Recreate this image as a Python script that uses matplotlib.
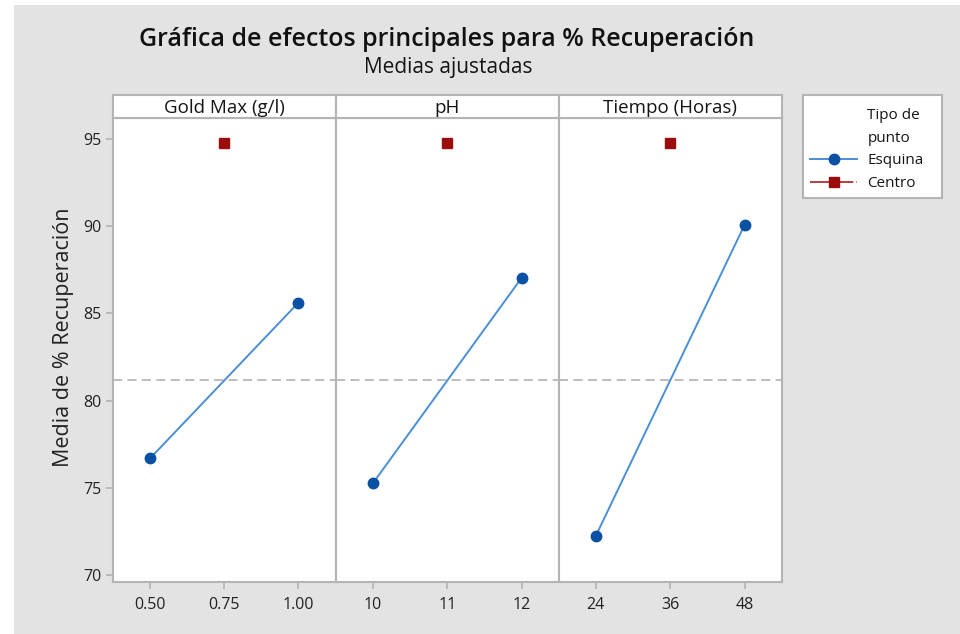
import numpy as np
import matplotlib.pyplot as plt
from matplotlib.lines import Line2D
from matplotlib.patches import Rectangle

plt.rcParams['font.family'] = ['Open Sans', 'DejaVu Sans']

factors = ['Gold Max (g/l)', 'pH', 'Tiempo (Horas)']
levels = [[0.50, 1.00], [10, 12], [24, 48]]
corner_means = [[76.69, 85.61], [75.26, 87.03], [72.25, 90.07]]
center_levels = [0.75, 11, 36]
center_means = [94.79, 94.79, 94.79]
tick_vals = [[0.50, 0.75, 1.00], [10, 11, 12], [24, 36, 48]]
tick_labels = [['0.50', '0.75', '1.00'], ['10', '11', '12'], ['24', '36', '48']]
x_limits = [(0.374, 1.126), (9.5, 12.5), (18, 54)]
overall_mean = 81.16

bg = '#e3e3e3'
frame = '#b4b4b4'
blue = '#0a50a3'
line_blue = '#4a8fd4'
red = '#9b0d0d'
ink = '#151515'

W, H = 960, 634
fig = plt.figure(figsize=(W / 100, H / 100), dpi=100)
fig.patch.set_facecolor(bg)
# white margins on the left and top of the screenshot
fig.patches.append(Rectangle((0, 0), 14 / W, 1, transform=fig.transFigure,
                             facecolor='white', edgecolor='none'))
fig.patches.append(Rectangle((0, 1 - 5 / H), 1, 5 / H, transform=fig.transFigure,
                             facecolor='white', edgecolor='none'))

left, right = 112.7 / W, 781.7 / W
pw = (right - left) / 3
bottom = 1 - 581.7 / H
top = 1 - 118 / H
strip_h = 23 / H

for i in range(3):
    ax = fig.add_axes([left + i * pw, bottom, pw, top - bottom])
    ax.set_facecolor('white')
    ax.plot(levels[i], corner_means[i], color=line_blue, lw=1.4, zorder=2)
    ax.plot(levels[i], corner_means[i], 'o', color=blue, ms=7.5, zorder=3)
    ax.plot(center_levels[i], center_means[i], 's', color=red, ms=7.5, zorder=3)
    ax.axhline(overall_mean, color='#b8b8b8', lw=1.3, ls=(0, (5, 3)), zorder=1)
    ax.set_xlim(*x_limits[i])
    ax.set_ylim(69.62, 96.2)
    ax.set_xticks(tick_vals[i])
    ax.set_xticklabels(tick_labels[i])
    ax.set_yticks([70, 75, 80, 85, 90, 95])
    for s in ax.spines.values():
        s.set_color(frame)
        s.set_linewidth(1.5)
    ax.tick_params(axis='both', colors=frame, labelcolor='#222222', labelsize=11.5, length=5, width=1.2)
    ax.tick_params(axis='x', pad=6)
    ax.tick_params(axis='y', pad=3)
    if i > 0:
        ax.tick_params(axis='y', left=False, labelleft=False)
    else:
        ax.set_ylabel('Media de % Recuperación', fontsize=15.5, color='#222222')
        ax.yaxis.set_label_coords(-0.173, 0.528)

    sax = fig.add_axes([left + i * pw, top, pw, strip_h])
    sax.set_facecolor('white')
    sax.set_xticks([])
    sax.set_yticks([])
    for s in sax.spines.values():
        s.set_color(frame)
        s.set_linewidth(1.5)
    sax.text(0.5, 0.45, factors[i], ha='center', va='center', fontsize=13.5, color=ink,
             transform=sax.transAxes)

fig.text(447 / W, 1 - 40 / H, 'Gráfica de efectos principales para % Recuperación',
         ha='center', va='center', fontsize=18, fontweight='semibold', color='#111111')
fig.text(448 / W, 1 - 68 / H, 'Medias ajustadas', ha='center', va='center',
         fontsize=15, color=ink)

# legend box
fig.patches.append(Rectangle((803 / W, 1 - 198 / H), 139 / W, 103 / H, transform=fig.transFigure,
                             facecolor='white', edgecolor=frame, lw=1.5))
blank = Line2D([], [], color='none')
handles = [blank, blank,
           Line2D([], [], color=line_blue, marker='o', mfc=blue, mec=blue, ms=7.5, lw=1.4),
           Line2D([], [], color='#b03030', marker='s', mfc=red, mec=red, ms=7.5, lw=1.3,
                  ls=(0, (24, 1.7, 0.8, 1.7)))]
leg = fig.legend(handles, ['Tipo de', 'punto', 'Esquina', 'Centro'],
                 loc='upper left', bbox_to_anchor=(810 / W, 1 - 108 / H), fontsize=11,
                 frameon=False, borderpad=0, borderaxespad=0,
                 handlelength=3.1, handletextpad=0.65, labelspacing=0.5)
for t in leg.get_texts():
    t.set_color(ink)

fig.savefig('out.png', dpi=100, facecolor=fig.get_facecolor())
